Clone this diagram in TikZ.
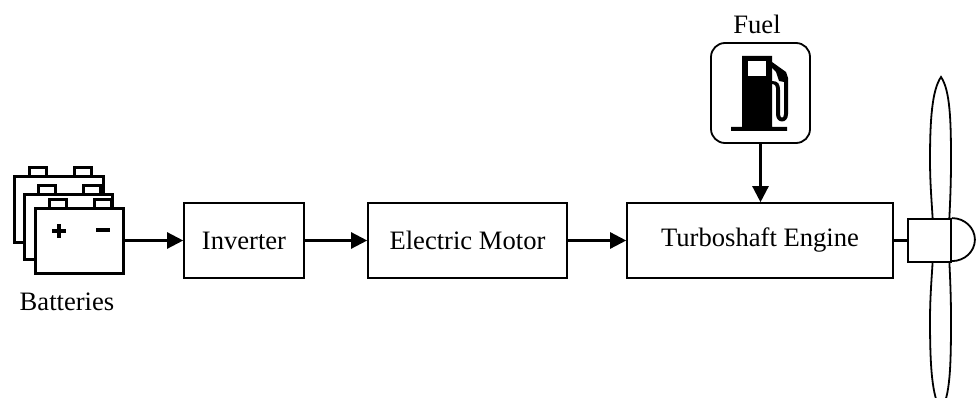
\documentclass[tikz,border=0pt]{standalone}
\usepackage{fontspec}
\setmainfont{Liberation Serif}
\usetikzlibrary{arrows.meta}
\tikzset{
  x=1pt,y=-1pt,
  blockbox/.style={draw,line width=1.6pt,inner sep=0pt,font=\fontsize{26.6}{30}\selectfont},
  lbl/.style={inner sep=0pt,font=\fontsize{26.6}{30}\selectfont},
  conn/.style={line width=2.4pt,-{Triangle[length=16pt,width=16pt]},shorten >=0pt},
  batt/.style={line width=3pt,fill=white,miter limit=10},
  blade/.style={line width=1.8pt,fill=white},
}
\begin{document}
\begin{tikzpicture}
\useasboundingbox (0,0) rectangle (976,398);
% blades
\clip (0,0) rectangle (976,398);
\draw[blade] (941,77) .. controls (932,90) and (930,120) .. (930,160) .. controls (930,185) and (932,205) .. (933,225)
  -- (949,225) .. controls (950,205) and (951,185) .. (951,160) .. controls (951,120) and (950,90) .. (941,77) -- cycle;
\draw[blade] (941,410) .. controls (932,397) and (930,367) .. (930,320) .. controls (930,295) and (932,275) .. (933,255)
  -- (949,255) .. controls (950,275) and (951,295) .. (951,320) .. controls (951,367) and (950,397) .. (941,410) -- cycle;
% batteries
\foreach \dx/\dy in {0/0,9.5/17,20.5/31}{
  \begin{scope}[shift={(\dx,\dy)}]
    \draw[batt] (29,168) rectangle (46,177);
    \draw[batt] (74,168) rectangle (91,177);
    \draw[batt] (14.5,177) rectangle (103,242);
  \end{scope}
}
\node[inner sep=0pt,minimum width=90pt,minimum height=66pt] (bat) at (79.5,240.5) {};
\draw[line width=3.2pt] (52,231) -- (66,231) (59,224) -- (59,238);
\draw[line width=3.2pt] (96,230) -- (110,230);
\node[lbl] (batlabel) at (67,302) {Batteries};
% blocks
\node[blockbox,minimum width=120pt,minimum height=75pt] (inv) at (244,240.5) {Inverter};
\node[blockbox,minimum width=199pt,minimum height=75pt] (mot) at (467.5,240.5) {Electric Motor};
\node[blockbox,minimum width=266pt,minimum height=75pt] (eng) at (760,240.5) {\raisebox{3pt}{Turboshaft Engine}};
% fuel
\node[draw,line width=1.8pt,rounded corners=14pt,minimum width=99pt,minimum height=100pt,inner sep=0pt] (fuel) at (760.5,93) {};
\node[lbl] (fuellabel) at (757,24) {Fuel};
\fill (742,56) -- (772,56) -- (772,127) -- (787,127) -- (787,131) -- (731,131) -- (731,127) -- (742,127) -- cycle;
\fill[white] (748,61) rectangle (766,76);
\fill (772,62) -- (786,72) -- (788,78) -- (788,114) .. controls (788,124) and (776,124) .. (776,114) -- (776,88) .. controls (776,84) and (772,84) .. (772,84) -- (772,81) .. controls (778,81) and (780,84) .. (780,90) -- (780,114) .. controls (780,119) and (784,119) .. (784,114) -- (784,82) -- (779,81) -- (776,72) -- (772,68) -- cycle;
% connectors
\draw[conn] (bat.east) -- (inv.west);
\draw[conn] (inv.east) -- (mot.west);
\draw[conn] (mot.east) -- (eng.west);
\draw[conn] (fuel.south) -- (fuel.south |- eng.north);
% hub
\node[draw,line width=1.8pt,fill=white,minimum width=43pt,minimum height=43pt,inner sep=0pt] (hub) at (929.5,240.5) {};
\draw[line width=1.8pt] (hub.north east) arc[start angle=90,end angle=-90,x radius=23pt,y radius=21.5pt];
\draw[line width=2.4pt] (eng.east) -- (hub.west);
\end{tikzpicture}
\end{document}
